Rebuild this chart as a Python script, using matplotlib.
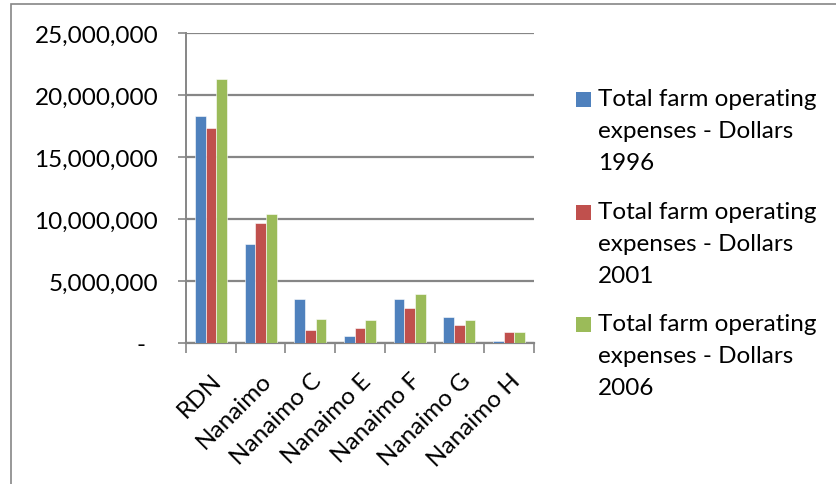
import numpy as np
import matplotlib.pyplot as plt
from matplotlib.patches import Rectangle
from matplotlib.ticker import FuncFormatter

# Farm operating expenses by area (dollars)
areas = ["RDN", "Nanaimo", "Nanaimo C", "Nanaimo E", "Nanaimo F", "Nanaimo G", "Nanaimo H"]
exp_1996 = [18280000, 7960000, 3580000, 540000, 3580000, 2100000, 190000]
exp_2001 = [17310000, 9680000, 1020000, 1180000, 2800000, 1420000, 860000]
exp_2006 = [21260000, 10430000, 1910000, 1830000, 3980000, 1880000, 910000]
series_names = ["Total farm operating\nexpenses - Dollars\n1996",
                "Total farm operating\nexpenses - Dollars\n2001",
                "Total farm operating\nexpenses - Dollars\n2006"]
colors = ["#4F81BD", "#C0504D", "#9BBB59"]

W, H = 837, 485
grey = "#868686"
plt.rcParams['font.family'] = ['Lato', 'DejaVu Sans']

fig = plt.figure(figsize=(W / 100, H / 100), dpi=100)
# outer chart frame (only top and left edges visible)
fig.patches.append(Rectangle((11 / W, -0.1), 1.2, 1 - 5 / H + 0.1, transform=fig.transFigure,
                             fill=False, edgecolor=grey, linewidth=1.2))

ax = fig.add_axes([186 / W, 1 - 344 / H, (534 - 186) / W, (344 - 34) / H])
x = np.arange(len(areas))
bw = 0.215
for i, vals in enumerate([exp_1996, exp_2001, exp_2006]):
    ax.bar(x + (i - 1) * bw, vals, bw, color=colors[i], edgecolor="#ffffff", linewidth=0.4, zorder=3)

ax.set_xlim(-0.5, len(areas) - 0.5)
ax.set_ylim(0, 25000000)
ax.set_yticks(np.arange(0, 25000001, 5000000))
ax.yaxis.set_major_formatter(FuncFormatter(lambda v, p: "-  " if v == 0 else f"{v:,.0f}"))
ax.grid(axis="y", color=grey, linewidth=1.6, zorder=0)

# category boundary ticks on x axis
ax.set_xticks(np.arange(-0.5, len(areas), 1.0))
ax.set_xticklabels([])
ax.set_xticks(x, minor=True)
ax.set_xticklabels(areas, minor=True, rotation=45, ha="right", rotation_mode="anchor", fontsize=17.5)
ax.tick_params(axis="x", which="major", length=7, width=1.2, color=grey)
ax.tick_params(axis="x", which="minor", length=0, pad=19)
ax.tick_params(axis="y", length=6, width=1.2, color=grey, labelsize=17.5, pad=14)

for s in ["top", "right"]:
    ax.spines[s].set_visible(False)
ax.spines["left"].set_color(grey)
ax.spines["left"].set_linewidth(1.4)
ax.spines["bottom"].set_color(grey)
ax.spines["bottom"].set_linewidth(1.6)

# legend entries: square key aligned with first text line
leg_top = [93, 206, 318]
for name, c, yt in zip(series_names, colors, leg_top):
    fig.patches.append(Rectangle((576 / W, 1 - (yt + 15) / H), 15 / W, 15 / H,
                                 transform=fig.transFigure, facecolor=c, edgecolor="none"))
    fig.text(598 / W, 1 - (yt - 4) / H, name, ha="left", va="top",
             fontsize=17.5, linespacing=1.66)

fig.savefig("out.png", dpi=100)
